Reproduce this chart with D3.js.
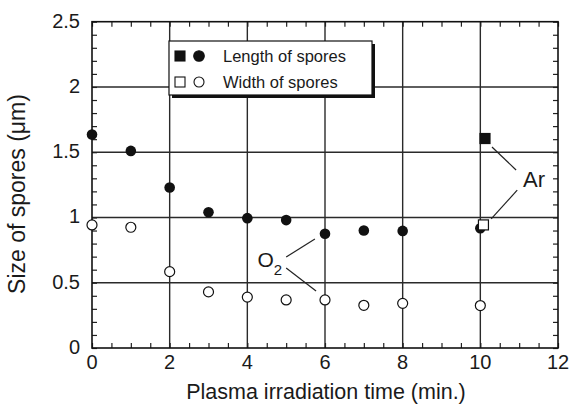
<!DOCTYPE html>
<html>
<head>
<meta charset="utf-8">
<script src="https://cdn.jsdelivr.net/npm/d3@7"></script>
<style>
  body { margin: 0; background: #fff; }
  text { font-family: "Liberation Sans", Arial, sans-serif; fill: #1a1a1a; }
</style>
</head>
<body>
<script>
// data
var times = [0, 1, 2, 3, 4, 5, 6, 7, 8, 10];
var lengthO2 = [1.635, 1.51, 1.23, 1.04, 0.995, 0.98, 0.875, 0.90, 0.897, 0.917];
var widthO2 = [0.943, 0.925, 0.585, 0.43, 0.39, 0.368, 0.368, 0.327, 0.342, 0.325];
var arTime = [10.12, 10.08];
var arValues = [1.605, 0.943]; // length, width
var xTicks = [0, 2, 4, 6, 8, 10, 12];
var yTicks = [0, 0.5, 1, 1.5, 2, 2.5];

var W = 571, H = 410;
var margin = {top: 21.7, right: 13, bottom: 62, left: 92};
var width = W - margin.left - margin.right,
    height = H - margin.top - margin.bottom;

var svg = d3.select("body").append("svg")
    .attr("width", W)
    .attr("height", H);

var g = svg.append("g")
    .attr("transform", "translate(" + margin.left + "," + margin.top + ")");

var x = d3.scaleLinear().domain([0, 12]).range([0, width]);
var y = d3.scaleLinear().domain([0, 2.5]).range([height, 0]);

// grid lines
g.selectAll(".hgrid")
    .data(yTicks.filter(function(d) { return d > 0 && d < 2.5; }))
    .enter().append("line")
    .attr("x1", 0).attr("x2", width)
    .attr("y1", function(d) { return y(d); })
    .attr("y2", function(d) { return y(d); })
    .style("stroke", "#2a2a2a").style("stroke-width", 1.4);

g.selectAll(".vgrid")
    .data(xTicks.filter(function(d) { return d > 0 && d < 12; }))
    .enter().append("line")
    .attr("y1", 0).attr("y2", height)
    .attr("x1", function(d) { return x(d); })
    .attr("x2", function(d) { return x(d); })
    .style("stroke", "#2a2a2a").style("stroke-width", 1.4);

// minor ticks, inward on all four sides
var xMinor = d3.range(0, 12.01, 0.5);
var yMinor = d3.range(0, 2.501, 0.1);
var tl = 5;
g.append("g")
    .attr("transform", "translate(0," + height + ")")
    .call(d3.axisBottom(x).tickValues(xMinor).tickSize(-tl).tickFormat(""))
    .call(function(s) { s.select(".domain").remove(); });
g.append("g")
    .call(d3.axisTop(x).tickValues(xMinor).tickSize(-tl).tickFormat(""))
    .call(function(s) { s.select(".domain").remove(); });
g.append("g")
    .call(d3.axisLeft(y).tickValues(yMinor).tickSize(-tl).tickFormat(""))
    .call(function(s) { s.select(".domain").remove(); });
g.append("g")
    .attr("transform", "translate(" + width + ",0)")
    .call(d3.axisRight(y).tickValues(yMinor).tickSize(-tl).tickFormat(""))
    .call(function(s) { s.select(".domain").remove(); });
g.selectAll(".tick line").style("stroke", "#222").style("stroke-width", 1.2);

// frame
g.append("rect")
    .attr("width", width).attr("height", height)
    .style("fill", "none").style("stroke", "#111").style("stroke-width", 1.6);

// tick labels
g.selectAll(".xlab")
    .data(xTicks)
    .enter().append("text")
    .attr("x", function(d) { return x(d); })
    .attr("y", height + 21)
    .attr("text-anchor", "middle")
    .style("font-size", "20px")
    .text(function(d) { return d; });

g.selectAll(".ylab")
    .data(yTicks)
    .enter().append("text")
    .attr("x", -12)
    .attr("y", function(d) { return y(d); })
    .attr("dy", "0.3em")
    .attr("text-anchor", "end")
    .style("font-size", "20px")
    .text(function(d) { return d; });

// axis titles
svg.append("text")
    .attr("x", margin.left + width / 2 + 1)
    .attr("y", 399)
    .attr("text-anchor", "middle")
    .style("font-size", "21.5px")
    .text("Plasma irradiation time (min.)");

svg.append("text")
    .attr("transform", "translate(25,194) rotate(-90)")
    .attr("text-anchor", "middle")
    .style("font-size", "23px")
    .text("Size of spores (\u03bcm)");

// annotation leader lines (data units)
var leaders = [
  [[5.0, 0.697], [5.74, 0.835]],
  [[5.0, 0.613], [5.77, 0.437]],
  [[10.3, 1.54], [10.92, 1.364]],
  [[10.95, 1.21], [10.28, 0.989]]
];
g.selectAll(".leader")
    .data(leaders)
    .enter().append("line")
    .attr("x1", function(d) { return x(d[0][0]); })
    .attr("y1", function(d) { return y(d[0][1]); })
    .attr("x2", function(d) { return x(d[1][0]); })
    .attr("y2", function(d) { return y(d[1][1]); })
    .style("stroke", "#222").style("stroke-width", 1.2);

var o2 = g.append("text")
    .attr("x", x(4.26))
    .attr("y", y(0.62))
    .style("font-size", "21px");
o2.append("tspan").text("O");
o2.append("tspan").attr("dy", 8).style("font-size", "15px").text("2");

g.append("text")
    .attr("x", x(11.1))
    .attr("y", y(1.234))
    .style("font-size", "22px")
    .text("Ar");

// O2 data: length (filled) and width (open)
g.selectAll(".len")
    .data(times)
    .enter().append("circle")
    .attr("cx", function(d) { return x(d); })
    .attr("cy", function(d, i) { return y(lengthO2[i]); })
    .attr("r", 5.3)
    .style("fill", "#111");

g.selectAll(".wid")
    .data(times)
    .enter().append("circle")
    .attr("cx", function(d) { return x(d); })
    .attr("cy", function(d, i) { return y(widthO2[i]); })
    .attr("r", 5)
    .style("fill", "#fff").style("stroke", "#111").style("stroke-width", 1.2);

// Ar data: squares
var sq = 10;
g.selectAll(".ar")
    .data(arValues)
    .enter().append("rect")
    .attr("x", function(d, i) { return x(arTime[i]) - sq / 2; })
    .attr("y", function(d) { return y(d) - sq / 2; })
    .attr("width", sq).attr("height", sq)
    .style("fill", function(d, i) { return i === 0 ? "#111" : "#fff"; })
    .style("stroke", "#111").style("stroke-width", 1.2);

// legend
var lg = svg.append("g").attr("transform", "translate(169,41)");
lg.append("rect")
    .attr("x", 3).attr("y", 3).attr("width", 203).attr("height", 54)
    .style("fill", "#111");
lg.append("rect")
    .attr("width", 203).attr("height", 54)
    .style("fill", "#fff").style("stroke", "#111").style("stroke-width", 1.2);

var legendRows = ["Length of spores", "Width of spores"];
legendRows.forEach(function(label, i) {
  var cy = 15 + i * 26;
  var filled = i === 0;
  lg.append("rect")
      .attr("x", 6).attr("y", cy - 5).attr("width", 10).attr("height", 10)
      .style("fill", filled ? "#111" : "#fff")
      .style("stroke", "#111").style("stroke-width", 1.1);
  lg.append("circle")
      .attr("cx", 30).attr("cy", cy).attr("r", filled ? 5.3 : 5)
      .style("fill", filled ? "#111" : "#fff")
      .style("stroke", "#111").style("stroke-width", 1.1);
  lg.append("text")
      .attr("x", 54).attr("y", cy + 6)
      .style("font-size", "16.5px")
      .text(label);
});
</script>
</body>
</html>
